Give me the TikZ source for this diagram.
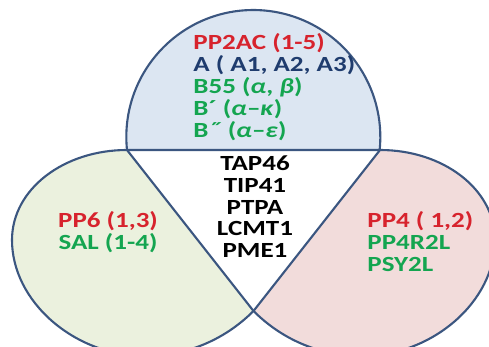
\documentclass[tikz,border=0pt]{standalone}
\usepackage{fontspec}
\setmainfont{Carlito}
\definecolor{edge}{RGB}{59,86,128}
\definecolor{topfill}{RGB}{220,230,242}
\definecolor{leftfill}{RGB}{235,241,222}
\definecolor{rightfill}{RGB}{242,220,219}
\definecolor{txtred}{RGB}{215,35,45}
\definecolor{txtblue}{RGB}{31,60,110}
\definecolor{txtgreen}{RGB}{20,165,80}
\newcommand{\gk}[1]{\textit{#1}}

\begin{document}
\begin{tikzpicture}[x=0.02cm, y=0.02cm,
        region/.style={draw=edge, line width=1.2pt, line join=round},
        lbl/.style={font=\fontsize{12.3}{12.5}\selectfont\bfseries, inner sep=0pt, xscale=1.25}
    ]
        \useasboundingbox (0,0) rectangle (489,347);
        \clip (0,0) rectangle (489,347);

        \coordinate (a) at (127,197);
        \coordinate (b) at (380,197);
        \coordinate (x) at (253.5,36);

        \draw[region, fill=leftfill] (a) .. controls (64,197) and (12,158) .. (12,107)
            .. controls (12,45) and (75,-9) .. (145,-9)
            .. controls (185,-9) and (223.5,6) .. (x) -- cycle;
        \draw[region, fill=rightfill] (b) .. controls (443,197) and (495,158) .. (495,107)
            .. controls (495,45) and (432,-9) .. (362,-9)
            .. controls (322,-9) and (283.5,6) .. (x) -- cycle;
        \draw[region, fill=topfill] (a) arc[start angle=185.87, end angle=-5.87, radius=127] -- cycle;

        \node[lbl, anchor=north west, align=left] (pptwo) at (193,314) {%
        \color{txtred}PP2AC (1-5)\\
        \color{txtblue}A ( A1, A2, A3)\\
        \color{txtgreen}B55 (\gk{α}, \gk{β})\\
        \color{txtgreen}B´ (\gk{α}–\gk{κ})\\
        \color{txtgreen}B˝ (\gk{α}–\gk{ε})};

        \node[lbl, anchor=north, align=center] (common) at (255,192) {TAP46\\ TIP41\\ PTPA\\ LCMT1\\ PME1};

        \node[lbl, anchor=north, align=center] (ppsix) at (108,136) {%
        \color{txtred}PP6 (1,3)\\
        \color{txtgreen}SAL (1-4)};

        \node[lbl, anchor=north west, align=left] (ppfour) at (367,136) {%
        \color{txtred}PP4 ( 1,2)\\
        \color{txtgreen}PP4R2L\\
        \color{txtgreen}PSY2L};
    \end{tikzpicture}
\end{document}
